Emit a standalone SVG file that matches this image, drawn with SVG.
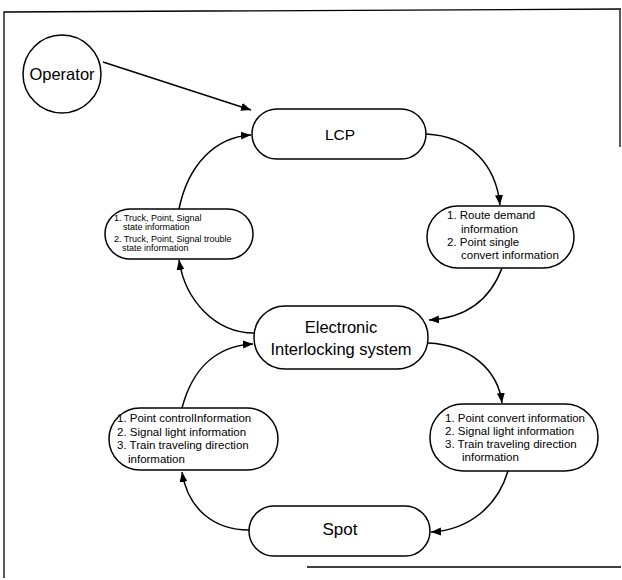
<svg xmlns="http://www.w3.org/2000/svg" width="622" height="580" viewBox="0 0 622 580">
<style>
.node{fill:#fff;stroke:#000;stroke-width:1.5}
.frame{fill:none;stroke:#000;stroke-width:1.3}
.conn{fill:none;stroke:#000;stroke-width:1.5}
text{font-family:"Liberation Sans",Arial,sans-serif;fill:#000}
.big{font-size:16.5px;text-anchor:middle}
.mid{font-size:11.5px}
.small{font-size:9px}
</style>
<defs>
<marker id="ah" viewBox="0 0 10 8" refX="10" refY="4" markerWidth="10" markerHeight="8" markerUnits="userSpaceOnUse" orient="auto">
<path d="M0,0 L10,4 L0,8 Z" fill="#000"/>
</marker>
</defs>
<rect width="622" height="580" fill="#fff"/>
<path class="frame" d="M4,578 L4,12 L621,9 M620,9 L620,147 M307,567 L621,567"/>
<g id="connectors">
<path class="conn" d="M103,62 L251,110" marker-end="url(#ah)"/>
<path class="conn" d="M179,209 C188,165 215,137 251,135" marker-end="url(#ah)"/>
<path class="conn" d="M426,134 C470,136 496,165 500,205" marker-end="url(#ah)"/>
<path class="conn" d="M502,268 C490,300 465,318 429,320" marker-end="url(#ah)"/>
<path class="conn" d="M254,333 C215,333 185,300 179,260" marker-end="url(#ah)"/>
<path class="conn" d="M182,408 C192,370 215,346 253,344" marker-end="url(#ah)"/>
<path class="conn" d="M428,343 C470,345 498,370 502,403" marker-end="url(#ah)"/>
<path class="conn" d="M508,471 C498,505 470,530 431,532" marker-end="url(#ah)"/>
<path class="conn" d="M249,530 C215,530 188,510 182,472" marker-end="url(#ah)"/>
</g>
<g id="operator">
<circle class="node" cx="62" cy="74" r="39"/>
<text class="big" x="62" y="80">Operator</text>
</g>
<g id="lcp">
<rect class="node" x="252" y="109" width="174" height="50" rx="25"/>
<text class="big" x="340" y="140" style="font-size:15.5px">LCP</text>
</g>
<g id="route-info">
<rect class="node" x="427" y="206" width="147" height="62" rx="31"/>
<text class="mid" x="447" y="219">1. Route demand</text>
<text class="mid" x="461" y="233">information</text>
<text class="mid" x="447" y="246">2. Point single</text>
<text class="mid" x="461" y="259">convert information</text>
</g>
<g id="state-info">
<rect class="node" x="105" y="209" width="148" height="50" rx="25"/>
<text class="small" x="114" y="221">1. Truck, Point, Signal</text>
<text class="small" x="123" y="230">state information</text>
<text class="small" x="114" y="242">2. Truck, Point, Signal trouble</text>
<text class="small" x="122" y="251">state information</text>
</g>
<g id="eis">
<rect class="node" x="254" y="306" width="174" height="63" rx="31"/>
<text class="big" x="341" y="333">Electronic</text>
<text class="big" x="341" y="355">Interlocking system</text>
</g>
<g id="control-info">
<rect class="node" x="109" y="408" width="169" height="62" rx="31"/>
<text class="mid" x="117" y="422">1. Point controlInformation</text>
<text class="mid" x="117" y="436">2. Signal light information</text>
<text class="mid" x="117" y="449">3. Train traveling direction</text>
<text class="mid" x="128" y="463">information</text>
</g>
<g id="convert-info">
<rect class="node" x="430" y="404" width="168" height="67" rx="33"/>
<text class="mid" x="445" y="422">1. Point convert information</text>
<text class="mid" x="445" y="435">2. Signal light information</text>
<text class="mid" x="445" y="448">3. Train traveling direction</text>
<text class="mid" x="462" y="461">information</text>
</g>
<g id="spot">
<rect class="node" x="249" y="506" width="181" height="50" rx="25"/>
<text class="big" x="340" y="535" style="font-size:17px">Spot</text>
</g>
</svg>
